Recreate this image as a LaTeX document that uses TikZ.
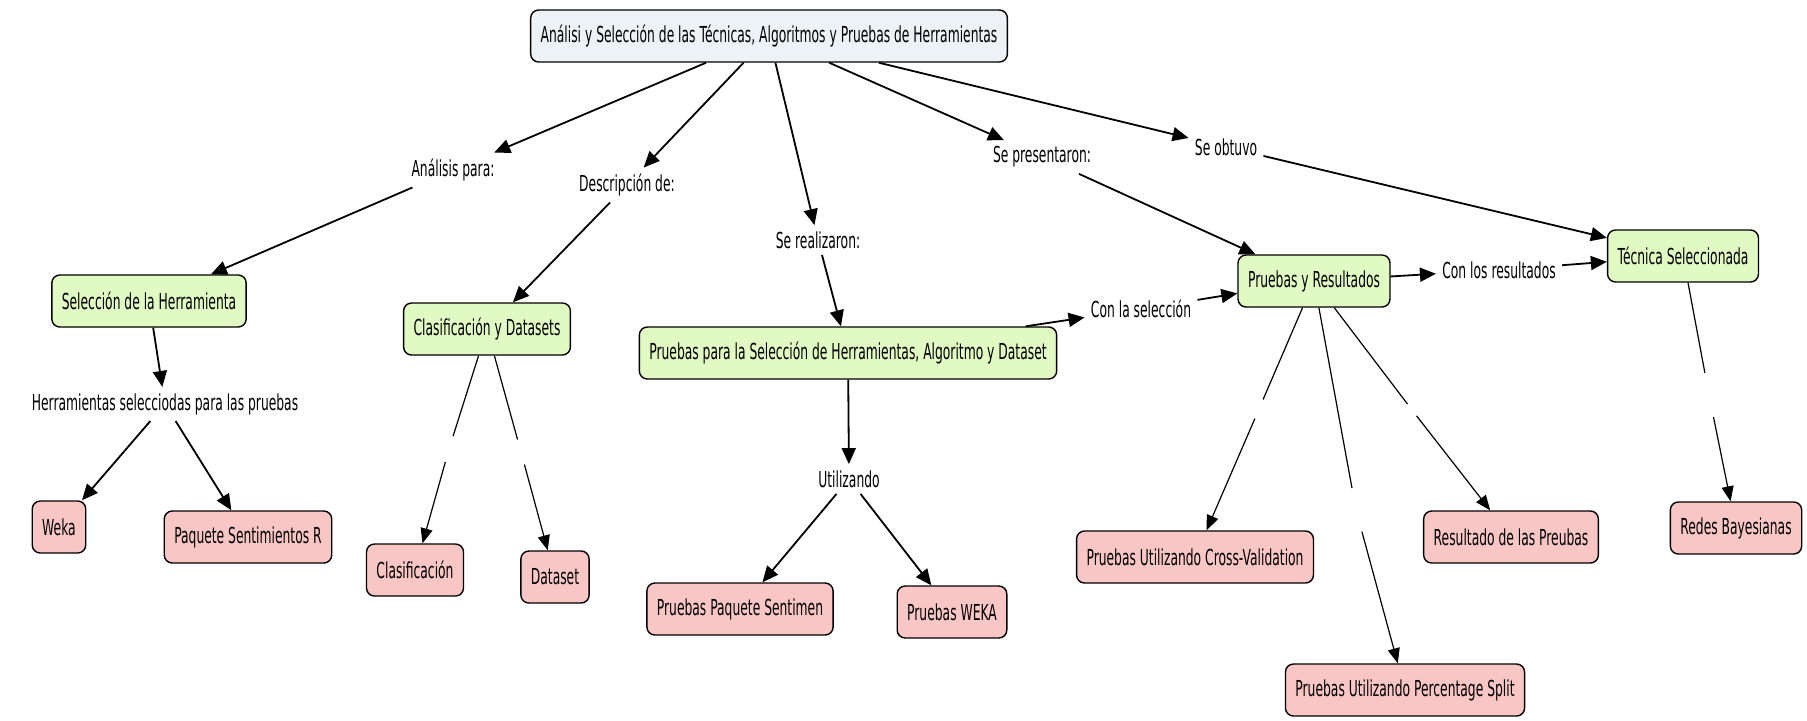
\documentclass[tikz,border=0pt]{standalone}
\usepackage{fontspec}
\setmainfont{DejaVu Sans}[FakeStretch=0.56]
\usepackage{xcolor}
\usetikzlibrary{arrows.meta}
\definecolor{rootblue}{HTML}{ECF2F5}
\definecolor{topicgreen}{HTML}{E1F9C3}
\definecolor{leafpink}{HTML}{F8C6C4}

\begin{document}
\begin{tikzpicture}[x=0.5pt,y=-0.5pt,font=\fontsize{11}{13}\selectfont,
  concept/.style={draw,line width=0.7pt,rounded corners=4pt,minimum height=26pt,inner xsep=5pt},
  root/.style={concept,fill=rootblue},
  topic/.style={concept,fill=topicgreen},
  leaf/.style={concept,fill=leafpink},
  phrase/.style={inner sep=3pt},
  nolabel/.style={circle,inner sep=0pt,minimum size=#1},
  link/.style={line width=0.9pt,-{Triangle[length=8pt,width=7pt]}},
  thinplain/.style={line width=0.6pt},
  thinlink/.style={line width=0.6pt,-{Triangle[length=7.5pt,width=6pt]}}]
  \useasboundingbox (0,0) rectangle (1807,720);
  % concepts and linking phrases
  \node[root] (root) at (769,36) {Análisi y Selección de las Técnicas, Algoritmos y Pruebas de Herramientas};
  \node[phrase] (ana) at (453,170) {Análisis para:};
  \node[phrase] (desc) at (627,185) {Descripción de:};
  \node[phrase] (real) at (818,240) {Se realizaron:};
  \node[phrase] (pres) at (1042,157) {Se presentaron:};
  \node[phrase] (obt) at (1226,147) {Se obtuvo};
  \node[topic] (selh) at (149,301) {Selección de la Herramienta};
  \node[phrase] (hsel) at (165,404) {Herramientas selecciodas para las pruebas};
  \node[leaf] (weka) at (59,527) {Weka};
  \node[leaf] (paq) at (248,537) {Paquete Sentimientos R};
  \node[topic] (clds) at (487,329) {Clasificación y Datasets};
  \node[leaf] (clas) at (415,570) {Clasificación};
  \node[leaf] (data) at (555,577) {Dataset};
  \node[topic] (psel) at (848,353) {Pruebas para la Selección de Herramientas, Algoritmo y Dataset};
  \node[phrase] (util) at (849,479) {Utilizando};
  \node[leaf] (ppaq) at (740,609) {Pruebas Paquete Sentimen};
  \node[leaf] (pweka) at (952,612) {Pruebas WEKA};
  \node[phrase] (csel) at (1141,309) {Con la selección};
  \node[topic] (pyr) at (1314,281) {Pruebas y Resultados};
  \node[phrase] (cres) at (1499,270) {Con los resultados};
  \node[topic] (tec) at (1683,256) {Técnica Seleccionada};
  \node[leaf] (cross) at (1195,557) {Pruebas Utilizando Cross-Validation};
  \node[leaf] (resu) at (1511,537) {Resultado de las Preubas};
  \node[leaf] (split) at (1405,690) {Pruebas Utilizando Percentage Split};
  \node[leaf] (bay) at (1736,528) {Redes Bayesianas};
  % empty linking phrases
  \node[nolabel=13pt] (g1) at (449,449) {};
  \node[nolabel=12.5pt] (g2) at (521,452) {};
  \node[nolabel=10pt] (g3) at (1259,409) {};
  \node[nolabel=22pt] (g4) at (1356,510) {};
  \node[nolabel=7pt] (g5) at (1412,410) {};
  \node[nolabel=22pt] (g6) at (1709,395) {};
  % connectors
  \foreach \a/\b in {root/ana,root/desc,root/real,root/pres,root/obt,ana/selh,desc/clds,real/psel,
    pres/pyr,obt/tec,selh/hsel,hsel/weka,hsel/paq,psel/util,util/ppaq,util/pweka,psel/csel,csel/pyr,
    pyr/cres,cres/tec}
    \draw[link] (\a) -- (\b);
  \foreach \a/\g/\b in {clds/g1/clas,clds/g2/data,pyr/g3/cross,pyr/g4/split,pyr/g5/resu,tec/g6/bay}{
    \draw[thinplain] (\a) -- (\g);
    \draw[thinlink] (\g) -- (\b);
  }
\end{tikzpicture}
\end{document}
